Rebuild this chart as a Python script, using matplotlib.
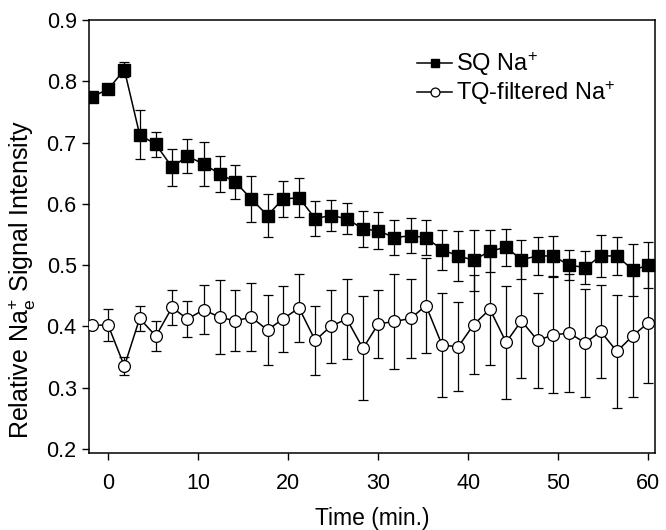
import matplotlib
matplotlib.use("Agg")
import matplotlib.pyplot as plt

# time points (min) and relative Na_e+ signal
t = [-1.8, 0.0, 1.8, 3.5, 5.3, 7.1, 8.8, 10.6, 12.4, 14.1, 15.9, 17.7,
     19.4, 21.2, 23.0, 24.7, 26.5, 28.3, 30.0, 31.8, 33.6, 35.3, 37.1, 38.9,
     40.6, 42.4, 44.2, 45.9, 47.7, 49.4, 51.2, 53.0, 54.7, 56.5, 58.3, 60.0]
sq = [0.775, 0.787, 0.819, 0.713, 0.697, 0.660, 0.678, 0.665, 0.649, 0.636,
      0.608, 0.581, 0.608, 0.610, 0.576, 0.581, 0.576, 0.559, 0.556, 0.545,
      0.548, 0.545, 0.525, 0.515, 0.508, 0.523, 0.529, 0.509, 0.515, 0.515,
      0.500, 0.496, 0.515, 0.515, 0.492, 0.500]
sq_err = [0.0, 0.0, 0.012, 0.040, 0.020, 0.030, 0.028, 0.036, 0.029, 0.028,
          0.038, 0.035, 0.030, 0.032, 0.029, 0.026, 0.025, 0.030, 0.030, 0.029,
          0.029, 0.029, 0.033, 0.041, 0.050, 0.035, 0.030, 0.032, 0.031, 0.033,
          0.025, 0.027, 0.035, 0.031, 0.042, 0.038]
tq = [0.402, 0.402, 0.335, 0.413, 0.384, 0.431, 0.412, 0.427, 0.415, 0.409,
      0.415, 0.394, 0.412, 0.430, 0.377, 0.400, 0.412, 0.364, 0.404, 0.408,
      0.413, 0.434, 0.369, 0.367, 0.403, 0.428, 0.374, 0.409, 0.377, 0.386,
      0.389, 0.373, 0.392, 0.359, 0.385, 0.406]
tq_err = [0.0, 0.026, 0.015, 0.021, 0.024, 0.028, 0.030, 0.040, 0.060, 0.050,
          0.055, 0.057, 0.054, 0.056, 0.057, 0.059, 0.066, 0.085, 0.056, 0.078,
          0.065, 0.078, 0.085, 0.073, 0.081, 0.091, 0.092, 0.094, 0.077, 0.094,
          0.096, 0.088, 0.076, 0.093, 0.100, 0.098]
xticks = [0, 10, 20, 30, 40, 50, 60]
yticks = [0.2, 0.3, 0.4, 0.5, 0.6, 0.7, 0.8, 0.9]

plt.rcParams.update({"font.family": ["Liberation Sans", "DejaVu Sans"],
                     "mathtext.fontset": "custom",
                     "mathtext.rm": "Liberation Sans",
                     "mathtext.it": "Liberation Sans",
                     "font.size": 15, "axes.linewidth": 1.1})

fig = plt.figure(figsize=(6.66, 5.30), dpi=100)
ax = fig.add_axes([0.134, 0.145, 0.849, 0.817])

eb = dict(fmt="none", ecolor="black", elinewidth=0.9, capsize=3.5, capthick=0.9)
ax.errorbar(t, sq, yerr=sq_err, zorder=2, **eb)
ax.errorbar(t, tq, yerr=tq_err, zorder=2, **eb)
h_sq, = ax.plot(t, sq, "-s", color="black", mfc="black", mec="black", ms=8.5,
                lw=1.1, label="SQ Na$^{+}$", zorder=3)
h_tq, = ax.plot(t, tq, "-o", color="black", mfc="white", mec="black", ms=8.5,
                mew=0.9, lw=1.1, label="TQ-filtered Na$^{+}$", zorder=4)

ax.set_xlim(-2.1, 60.7)
ax.set_ylim(0.193, 0.9)
ax.set_xticks(xticks)
ax.set_yticks(yticks)
ax.set_yticklabels(["%.1f" % v for v in yticks])
ax.tick_params(direction="out", length=5, width=1.0, labelsize=15.5)
ax.tick_params(axis="x", pad=9)
ax.tick_params(axis="y", pad=4)
ax.set_xlabel("Time (min.)", fontsize=16.5, labelpad=10)
ax.set_ylabel(r"Relative Na$_{\mathrm{e}}^{+}$ Signal Intensity", fontsize=18)
ax.yaxis.set_label_coords(-0.09, 0.40)

ax.legend(handles=[h_sq, h_tq], loc="upper left", bbox_to_anchor=(0.542, 0.98),
          frameon=False, fontsize=17, handlelength=1.5, handletextpad=0.15,
          labelspacing=0.05, markerscale=0.75)

fig.savefig("out.png", dpi=100)
